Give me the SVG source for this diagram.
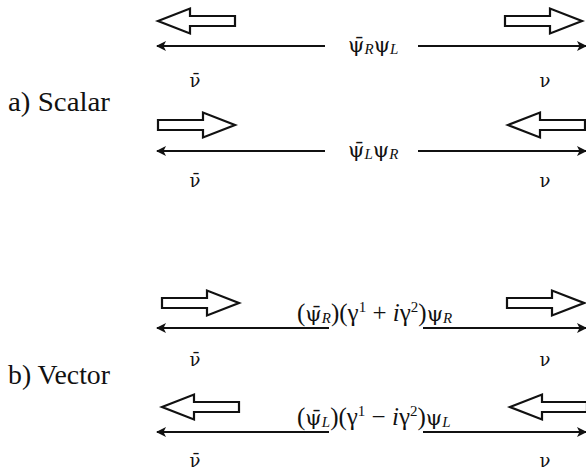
<svg xmlns="http://www.w3.org/2000/svg" width="586" height="472" viewBox="0 0 586 472">
<style>
.t{font-family:"Liberation Serif","Times New Roman",serif;fill:#111}
.lbl{font-size:27px}
.f{font-size:25px}
.nu{font-family:"DejaVu Serif",serif;font-size:18px;text-anchor:middle;fill:#111}
.mk{font-family:"DejaVu Serif",serif;font-size:21px}
.sub{font-size:15px;font-style:italic}
.sup{font-size:15px}
.ln{stroke:#111;stroke-width:2;fill:none}
.ha{fill:#fff;stroke:#111;stroke-width:2.2;stroke-linejoin:miter}
</style>
<defs>
<marker id="ah" viewBox="0 0 10 10" refX="9" refY="5" markerWidth="5" markerHeight="5" orient="auto-start-reverse" markerUnits="strokeWidth">
<path d="M0,0 L10,5 L0,10 L2.5,5 Z" fill="#111"/>
</marker>
<path id="hr" d="M0,-5 H45 V-12.5 L77,0 L45,12.5 V5 H0 Z"/>
<path id="hl" d="M0,0 L32,-12.5 V-5 H77 V5 H32 V12.5 Z"/>
</defs>
<rect width="586" height="472" fill="#fff"/>

<g id="label-a"><text class="t lbl" x="8" y="111" textLength="102" lengthAdjust="spacingAndGlyphs">a) Scalar</text></g>
<g id="label-b"><text class="t lbl" x="8" y="384" textLength="102" lengthAdjust="spacingAndGlyphs">b) Vector</text></g>

<g id="helicity-arrows">
<use href="#hl" class="ha" x="158" y="21"/>
<use href="#hr" class="ha" x="505" y="21"/>
<use href="#hr" class="ha" x="158" y="125"/>
<use href="#hl" class="ha" x="508" y="125"/>
<use href="#hr" class="ha" x="162" y="303"/>
<use href="#hr" class="ha" x="507" y="303"/>
<use href="#hl" class="ha" x="162" y="407"/>
<use href="#hl" class="ha" x="510" y="407"/>
</g>

<g id="connectors">
<line class="ln" x1="325" y1="46" x2="157" y2="46" marker-end="url(#ah)"/>
<line class="ln" x1="418" y1="46" x2="586" y2="46" marker-end="url(#ah)"/>
<line class="ln" x1="325" y1="151" x2="157" y2="151" marker-end="url(#ah)"/>
<line class="ln" x1="418" y1="151" x2="586" y2="151" marker-end="url(#ah)"/>
<line class="ln" x1="329" y1="328" x2="157" y2="328" marker-end="url(#ah)"/>
<line class="ln" x1="423" y1="328" x2="586" y2="328" marker-end="url(#ah)"/>
<line class="ln" x1="329" y1="432" x2="157" y2="432" marker-end="url(#ah)"/>
<line class="ln" x1="423" y1="432" x2="586" y2="432" marker-end="url(#ah)"/>
</g>

<g id="row1">
<text class="t f" x="348" y="52"><tspan class="mk">ψ̄</tspan><tspan class="sub" dy="2">R</tspan><tspan class="mk" dy="-2">ψ</tspan><tspan class="sub" dy="2">L</tspan></text>
<text class="nu" x="195" y="87">ν̄</text>
<text class="nu" x="545" y="87">ν</text>
</g>
<g id="row2">
<text class="t f" x="348" y="157"><tspan class="mk">ψ̄</tspan><tspan class="sub" dy="2">L</tspan><tspan class="mk" dy="-2">ψ</tspan><tspan class="sub" dy="2">R</tspan></text>
<text class="nu" x="195" y="187">ν̄</text>
<text class="nu" x="545" y="187">ν</text>
</g>
<g id="row3">
<text class="t f" x="297" y="321">(<tspan class="mk">ψ̄</tspan><tspan class="sub" dy="2">R</tspan><tspan dy="-2">)(γ</tspan><tspan class="sup" dy="-9">1</tspan><tspan dy="9"> + </tspan><tspan font-style="italic">i</tspan>γ<tspan class="sup" dy="-9">2</tspan><tspan dy="9">)</tspan><tspan class="mk">ψ</tspan><tspan class="sub" dy="2">R</tspan></text>
<text class="nu" x="195" y="366">ν̄</text>
<text class="nu" x="545" y="366">ν</text>
</g>
<g id="row4">
<text class="t f" x="297" y="425">(<tspan class="mk">ψ̄</tspan><tspan class="sub" dy="2">L</tspan><tspan dy="-2">)(γ</tspan><tspan class="sup" dy="-9">1</tspan><tspan dy="9"> − </tspan><tspan font-style="italic">i</tspan>γ<tspan class="sup" dy="-9">2</tspan><tspan dy="9">)</tspan><tspan class="mk">ψ</tspan><tspan class="sub" dy="2">L</tspan></text>
<text class="nu" x="195" y="467">ν̄</text>
<text class="nu" x="545" y="467">ν</text>
</g>
</svg>
